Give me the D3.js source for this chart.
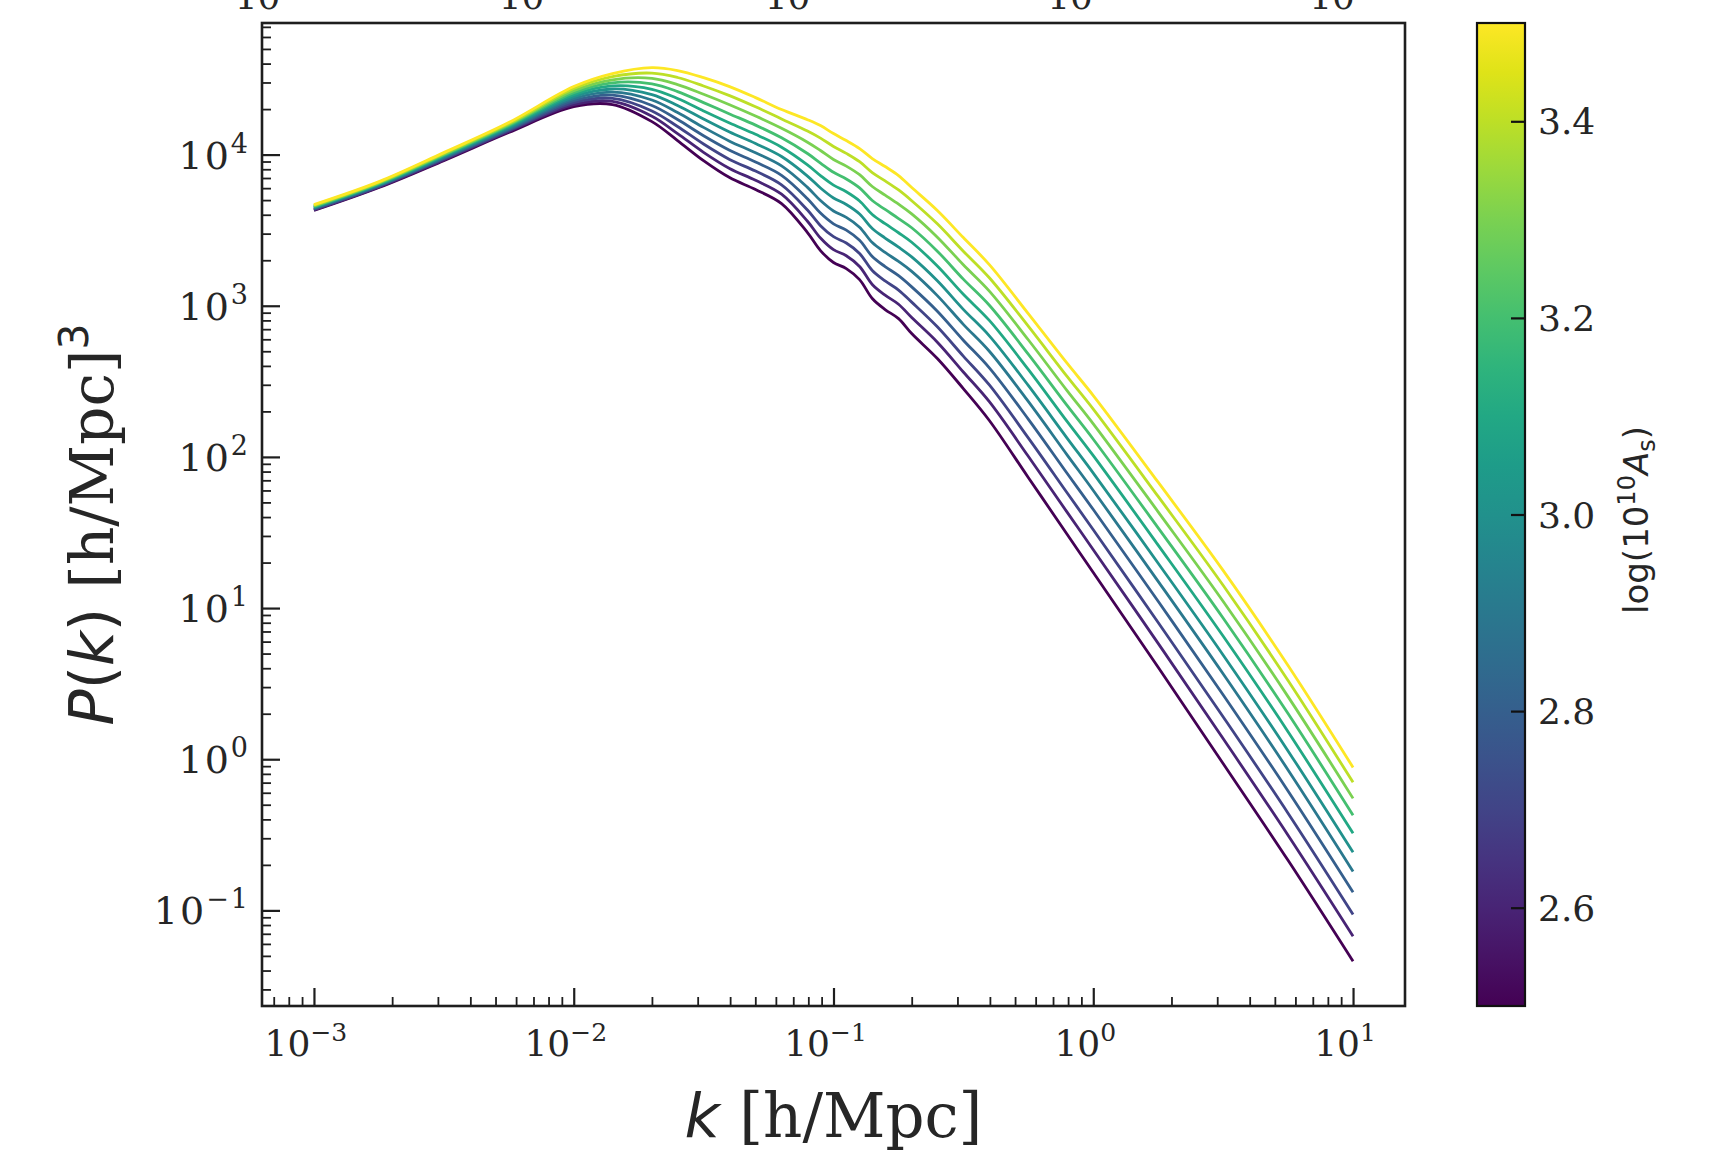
<!DOCTYPE html>
<html>
<head>
<meta charset="utf-8">
<script src="https://cdn.jsdelivr.net/npm/d3@7"></script>
<style>
  body { margin: 0; background: #fff; }
  svg text { fill: #262626; }
</style>
</head>
<body>
<div id="chart"></div>
<script>
(function () {

// ---- data ----
// wavenumbers k [h/Mpc]
var kValues = [0.001, 0.00178, 0.00316, 0.00562, 0.01, 0.0141, 0.02, 0.0251, 0.0316, 0.0398,
               0.0501, 0.0631, 0.0794, 0.0891, 0.1, 0.112, 0.126, 0.141, 0.158, 0.178,
               0.2, 0.251, 0.316, 0.398, 0.562, 0.794, 1.0, 1.78, 3.16, 5.62, 10.0];

// colour parameter of each curve, log(10^10 A_s)
var logAs = [2.5, 2.6, 2.7, 2.8, 2.9, 3.0, 3.1, 3.2, 3.3, 3.4, 3.5];

// log10 P(k) for each curve, same order as kValues
var logP_250 = [3.630, 3.782, 3.960, 4.146, 4.317, 4.331, 4.218, 4.093, 3.960, 3.848, 3.769, 3.676, 3.484, 3.365, 3.286, 3.246, 3.173, 3.048, 2.975, 2.915, 2.816, 2.651, 2.452, 2.241, 1.864, 1.487, 1.235, 0.607, -0.028, -0.669, -1.337];
var logP_260 = [3.634, 3.786, 3.965, 4.153, 4.330, 4.352, 4.254, 4.139, 4.015, 3.908, 3.830, 3.738, 3.559, 3.448, 3.371, 3.331, 3.260, 3.141, 3.070, 3.010, 2.922, 2.759, 2.562, 2.365, 2.004, 1.633, 1.386, 0.765, 0.137, -0.503, -1.171];
var logP_270 = [3.638, 3.790, 3.971, 4.159, 4.344, 4.372, 4.289, 4.186, 4.070, 3.968, 3.891, 3.800, 3.633, 3.530, 3.457, 3.415, 3.346, 3.233, 3.164, 3.104, 3.024, 2.861, 2.667, 2.476, 2.126, 1.761, 1.518, 0.903, 0.281, -0.357, -1.027];
var logP_280 = [3.642, 3.794, 3.976, 4.166, 4.357, 4.393, 4.325, 4.232, 4.125, 4.029, 3.951, 3.863, 3.708, 3.613, 3.542, 3.500, 3.433, 3.326, 3.259, 3.199, 3.125, 2.964, 2.772, 2.589, 2.250, 1.890, 1.652, 1.043, 0.427, -0.210, -0.880];
var logP_290 = [3.646, 3.798, 3.981, 4.172, 4.370, 4.413, 4.361, 4.278, 4.180, 4.089, 4.012, 3.925, 3.783, 3.696, 3.627, 3.585, 3.520, 3.418, 3.353, 3.293, 3.227, 3.067, 2.877, 2.699, 2.367, 2.012, 1.778, 1.175, 0.565, -0.071, -0.742];
var logP_300 = [3.650, 3.802, 3.987, 4.179, 4.384, 4.434, 4.397, 4.325, 4.235, 4.149, 4.073, 3.987, 3.858, 3.779, 3.713, 3.670, 3.607, 3.511, 3.448, 3.388, 3.323, 3.165, 2.976, 2.801, 2.473, 2.123, 1.893, 1.295, 0.690, 0.055, -0.616];
var logP_310 = [3.653, 3.805, 3.992, 4.186, 4.397, 4.454, 4.432, 4.371, 4.289, 4.209, 4.134, 4.049, 3.932, 3.861, 3.798, 3.754, 3.693, 3.604, 3.543, 3.483, 3.420, 3.263, 3.076, 2.903, 2.579, 2.233, 2.008, 1.415, 0.815, 0.182, -0.490];
var logP_320 = [3.657, 3.809, 3.997, 4.192, 4.410, 4.475, 4.468, 4.417, 4.344, 4.269, 4.195, 4.111, 4.007, 3.944, 3.883, 3.839, 3.780, 3.696, 3.637, 3.577, 3.516, 3.361, 3.176, 3.003, 2.680, 2.339, 2.117, 1.529, 0.934, 0.302, -0.371];
var logP_330 = [3.661, 3.813, 4.002, 4.199, 4.423, 4.495, 4.504, 4.463, 4.399, 4.330, 4.255, 4.174, 4.082, 4.027, 3.968, 3.924, 3.867, 3.789, 3.732, 3.672, 3.608, 3.454, 3.271, 3.097, 2.775, 2.437, 2.219, 1.635, 1.045, 0.414, -0.259];
var logP_340 = [3.665, 3.817, 4.008, 4.205, 4.437, 4.516, 4.539, 4.510, 4.454, 4.390, 4.316, 4.236, 4.156, 4.109, 4.054, 4.008, 3.953, 3.881, 3.826, 3.766, 3.695, 3.542, 3.361, 3.185, 2.865, 2.531, 2.316, 1.737, 1.151, 0.521, -0.153];
var logP_350 = [3.669, 3.821, 4.013, 4.212, 4.450, 4.536, 4.575, 4.556, 4.509, 4.450, 4.377, 4.298, 4.231, 4.192, 4.139, 4.093, 4.040, 3.974, 3.921, 3.861, 3.782, 3.630, 3.451, 3.272, 2.948, 2.618, 2.406, 1.831, 1.249, 0.620, -0.054];

var curves = [logP_250, logP_260, logP_270, logP_280, logP_290, logP_300,
              logP_310, logP_320, logP_330, logP_340, logP_350];

// tick labels
var xTickExps = [-3, -2, -1, 0, 1];
var yTickExps = [-1, 0, 1, 2, 3, 4];
var cbTicks = [2.6, 2.8, 3.0, 3.2, 3.4];
var cbRange = [2.5, 3.5];
// bits of tick labels from a panel above, cut by the image edge
var cutTopExps = [-3, -2, -1, 0, 1];

// ---- layout ----
var width = 1727, height = 1151;
var plot = {left: 262, right: 1405, top: 23, bottom: 1006};
var cb = {left: 1477, right: 1525};
var serif = "'DejaVu Serif', serif";
var sans = "'DejaVu Sans', sans-serif";
var ink = '#1e1e1e';

var svg = d3.select('#chart')
  .append('svg')
  .attr('width', width)
  .attr('height', height)
  .style('background', '#fff');

// x: matplotlib-like 5% margin in log space
var xScale = d3.scaleLog()
  .domain([Math.pow(10, -3.2), Math.pow(10, 1.2)])
  .range([plot.left, plot.right]);

var allLog = d3.merge(curves);
var lo = d3.min(allLog), hi = d3.max(allLog), pad = 0.05 * (hi - lo);
var yScale = d3.scaleLog()
  .domain([Math.pow(10, lo - pad), Math.pow(10, hi + pad)])
  .range([plot.bottom, plot.top]);

var colour = d3.scaleSequential(d3.interpolateViridis).domain(cbRange);

// lines
var lineGen = d3.line()
  .x(function (d) { return xScale(d.k); })
  .y(function (d) { return yScale(Math.pow(10, d.lp)); })
  .curve(d3.curveCatmullRom.alpha(0.5));

curves.forEach(function (c, i) {
  var pts = kValues.map(function (k, j) { return {k: k, lp: c[j]}; });
  svg.append('path')
    .datum(pts)
    .attr('d', lineGen)
    .attr('fill', 'none')
    .attr('stroke', colour(logAs[i]))
    .attr('stroke-width', 2.8)
    .attr('stroke-linejoin', 'round');
});

// ticks (pointing inward)
function isMajor(v) {
  var l = Math.log10(v);
  return Math.abs(l - Math.round(l)) < 1e-6;
}
var minorX = xScale.ticks().filter(function (v) { return !isMajor(v); });
var minorY = yScale.ticks().filter(function (v) { return !isMajor(v); });

function styleAxis(g, w) {
  g.select('.domain').remove();
  g.selectAll('line').attr('stroke', ink).attr('stroke-width', w);
}

svg.append('g')
  .attr('transform', 'translate(0,' + plot.bottom + ')')
  .call(d3.axisBottom(xScale).tickValues(minorX).tickSize(-9).tickFormat(''))
  .call(styleAxis, 1.8);
svg.append('g')
  .attr('transform', 'translate(0,' + plot.bottom + ')')
  .call(d3.axisBottom(xScale).tickValues(xTickExps.map(function (e) { return Math.pow(10, e); }))
    .tickSize(-18).tickFormat(''))
  .call(styleAxis, 2.2);

svg.append('g')
  .attr('transform', 'translate(' + plot.left + ',0)')
  .call(d3.axisLeft(yScale).tickValues(minorY).tickSize(-9).tickFormat(''))
  .call(styleAxis, 1.8);
svg.append('g')
  .attr('transform', 'translate(' + plot.left + ',0)')
  .call(d3.axisLeft(yScale).tickValues(yTickExps.map(function (e) { return Math.pow(10, e); }))
    .tickSize(-18).tickFormat(''))
  .call(styleAxis, 2.2);

// frame
svg.append('rect')
  .attr('x', plot.left).attr('y', plot.top)
  .attr('width', plot.right - plot.left).attr('height', plot.bottom - plot.top)
  .attr('fill', 'none').attr('stroke', ink).attr('stroke-width', 2.6);

// power-of-ten label: "10" with a raised exponent
function powLabel(t, e, size) {
  t.append('tspan').text('10');
  t.append('tspan')
    .attr('dy', -Math.round(size * 0.42))
    .attr('font-size', Math.round(size * 0.7))
    .text(String(e).replace('-', '\u2212'));
}

xTickExps.forEach(function (e) {
  svg.append('text')
    .attr('x', xScale(Math.pow(10, e)) - 8)
    .attr('y', 1056)
    .attr('text-anchor', 'middle')
    .attr('font-family', serif)
    .attr('font-size', 36)
    .call(powLabel, e, 36);
});

yTickExps.forEach(function (e) {
  svg.append('text')
    .attr('x', plot.left - 12)
    .attr('y', yScale(Math.pow(10, e)) + 14)
    .attr('text-anchor', 'end')
    .attr('font-family', serif)
    .attr('font-size', 38)
    .attr('letter-spacing', 2)
    .call(powLabel, e, 38);
});

// cut-off labels along the top edge
cutTopExps.forEach(function (e, i) {
  svg.append('text')
    .attr('x', [276, 540, 806, 1078, 1340][i])
    .attr('y', 9)
    .attr('text-anchor', 'middle')
    .attr('font-family', serif)
    .attr('font-size', 36)
    .call(powLabel, e, 36);
});

// axis labels
var xl = svg.append('text')
  .attr('x', (plot.left + plot.right) / 2)
  .attr('y', 1137)
  .attr('text-anchor', 'middle')
  .attr('font-size', 61);
xl.append('tspan').attr('font-family', sans).attr('font-style', 'italic').text('k');
xl.append('tspan').attr('font-family', serif).text(' [h/Mpc]');

var yl = svg.append('text')
  .attr('transform', 'translate(113,' + ((plot.top + plot.bottom) / 2 + 10) + ') rotate(-90)')
  .attr('text-anchor', 'middle')
  .attr('font-size', 60);
yl.append('tspan').attr('font-family', sans).attr('font-style', 'italic').text('P');
yl.append('tspan').attr('font-family', sans).text('(');
yl.append('tspan').attr('font-family', sans).attr('font-style', 'italic').text('k');
yl.append('tspan').attr('font-family', sans).text(')');
yl.append('tspan').attr('font-family', serif).text(' [h/Mpc]');
yl.append('tspan').attr('font-family', sans).attr('font-size', 41).attr('dy', -25).text('3');

// ---- colour bar ----
var cbScale = d3.scaleLinear().domain(cbRange).range([plot.bottom, plot.top]);

var grad = svg.append('defs').append('linearGradient')
  .attr('id', 'viridisGrad')
  .attr('x1', 0).attr('y1', 1).attr('x2', 0).attr('y2', 0);
d3.range(0, 1.0001, 0.05).forEach(function (t) {
  grad.append('stop')
    .attr('offset', t)
    .attr('stop-color', d3.interpolateViridis(t));
});

svg.append('rect')
  .attr('x', cb.left).attr('y', cbScale(cbRange[1]))
  .attr('width', cb.right - cb.left)
  .attr('height', cbScale(cbRange[0]) - cbScale(cbRange[1]))
  .attr('fill', 'url(#viridisGrad)')
  .attr('stroke', '#111').attr('stroke-width', 2.2);

svg.append('g')
  .attr('transform', 'translate(' + cb.right + ',0)')
  .call(d3.axisRight(cbScale).tickValues(cbTicks).tickSize(-14).tickFormat(''))
  .call(styleAxis, 2.2)
  .selectAll('line').attr('stroke', '#111');

cbTicks.forEach(function (t) {
  svg.append('text')
    .attr('x', cb.right + 13)
    .attr('y', cbScale(t) + 13)
    .attr('font-family', serif)
    .attr('font-size', 36)
    .text(d3.format('.1f')(t));
});

var cl = svg.append('text')
  .attr('transform', 'translate(1648,520) rotate(-90)')
  .attr('text-anchor', 'middle')
  .attr('font-family', sans)
  .attr('font-size', 34);
cl.append('tspan').text('log(10');
cl.append('tspan').attr('font-size', 24).attr('dy', -13).text('10');
cl.append('tspan').attr('font-style', 'italic').attr('dy', 13).text('A');
cl.append('tspan').attr('font-size', 24).attr('dy', 7).text('s');
cl.append('tspan').attr('dy', -7).text(')');

})();
</script>
</body>
</html>
